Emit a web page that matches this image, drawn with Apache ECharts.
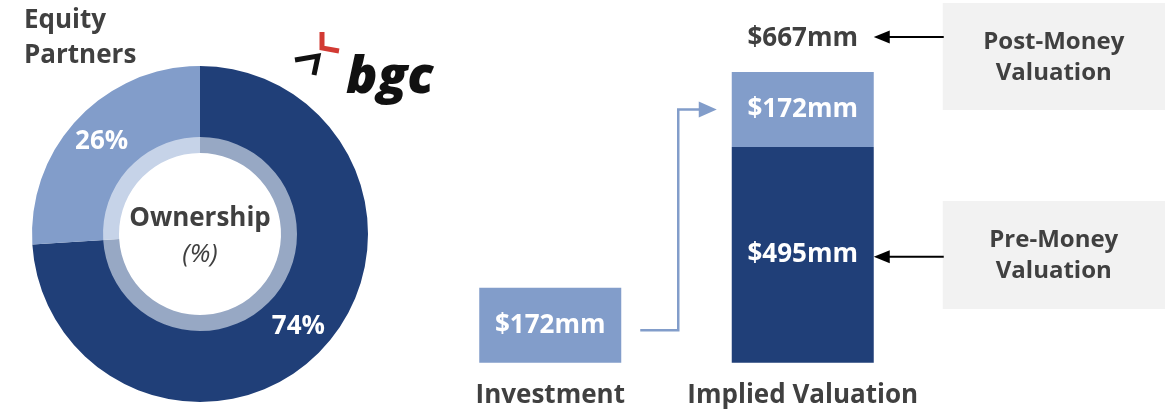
<!DOCTYPE html>
<html>
<head>
<meta charset="utf-8">
<script src="https://cdn.jsdelivr.net/npm/echarts@6/dist/echarts.min.js"></script>
<style>
  html, body { margin: 0; padding: 0; background: #fff; }
  #main { width: 1165px; height: 415px; }
</style>
</head>
<body>
<div id="main"></div>
<script>
// ownership split (pie)
var ownerNames = ["BGC", "Equity Partners"];
var ownerPct = [74, 26];

// valuation bars
var categories = ["Investment", "Implied Valuation"];
var preMoney = [null, 495];
var investment = [172, 172];
var postMoney = 667;

var DARK = "#203f78";
var LIGHT = "#829dca";
var TEXT = "#404040";
var FONT = "Open Sans";
var outerColors = [DARK, LIGHT];
var ringColors = ["#97a8c4", "#c6d3e8"];

var chart = echarts.init(document.getElementById("main"));

var money = function (v) { return "$" + v + "mm"; };

var option = {
  animation: false,
  textStyle: { fontFamily: FONT },
  grid: { left: 424, width: 505, top: 72, bottom: 52.3 },
  xAxis: {
    type: "category",
    data: categories,
    axisLine: { show: false },
    axisTick: { show: false },
    axisLabel: { interval: 0, color: TEXT, fontSize: 26, fontWeight: "bold", fontFamily: FONT, margin: 20 }
  },
  yAxis: { type: "value", min: 0, max: postMoney, show: false, splitLine: { show: false } },
  series: [
    {
      type: "pie",
      name: "Ownership",
      center: [200, 234],
      radius: [96, 168],
      startAngle: 90,
      clockwise: true,
      silent: true,
      label: {
        position: "inside",
        color: "#fff",
        fontSize: 26,
        fontWeight: "bold",
        fontFamily: FONT,
        formatter: "{c}%"
      },
      labelLine: { show: false },
      data: ownerNames.map(function (n, i) {
        return { name: n, value: ownerPct[i], itemStyle: { color: outerColors[i], borderWidth: 0 } };
      })
    },
    {
      type: "pie",
      name: "OwnershipRing",
      center: [200, 234],
      radius: [81, 97],
      startAngle: 90,
      clockwise: true,
      silent: true,
      label: { show: false },
      labelLine: { show: false },
      data: ownerNames.map(function (n, i) {
        return { name: n, value: ownerPct[i], itemStyle: { color: ringColors[i], borderWidth: 0 } };
      })
    },
    {
      type: "bar",
      name: "Pre-Money",
      stack: "v",
      barWidth: 142,
      itemStyle: { color: DARK },
      label: {
        show: true, position: "inside", color: "#fff", fontSize: 26, fontWeight: "bold", fontFamily: FONT,
        formatter: function (p) { return money(p.value); }
      },
      data: preMoney
    },
    {
      type: "bar",
      name: "Investment",
      stack: "v",
      barWidth: 142,
      itemStyle: { color: LIGHT },
      label: {
        show: true, position: "inside", color: "#fff", fontSize: 26, fontWeight: "bold", fontFamily: FONT,
        formatter: function (p) { return money(p.value); }
      },
      data: investment
    },
    {
      type: "bar",
      name: "Post-Money",
      stack: "v",
      barWidth: 142,
      itemStyle: { color: "transparent" },
      label: {
        show: true, position: "top", distance: 20, color: TEXT, fontSize: 26, fontWeight: "bold", fontFamily: FONT,
        formatter: function (p) { return p.dataIndex === 1 ? money(postMoney) : ""; }
      },
      data: [null, 0]
    }
  ]
};

chart.setOption(option);

// annotations placed from the axes
var xInv = chart.convertToPixel({ xAxisIndex: 0 }, categories[0]);
var xImp = chart.convertToPixel({ xAxisIndex: 0 }, categories[1]);
var yTop = chart.convertToPixel({ yAxisIndex: 0 }, postMoney);
var yPre = chart.convertToPixel({ yAxisIndex: 0 }, preMoney[1]);
var yZero = chart.convertToPixel({ yAxisIndex: 0 }, 0);
var yInvTop = chart.convertToPixel({ yAxisIndex: 0 }, investment[0]);
var half = 71;

var yLightMid = (yTop + yPre) / 2;
var yInvMid = (yInvTop + yZero) / 2 + 5;
var yPostLbl = yTop - 35;
var yPreLbl = (yPre + yZero) / 2 + 2;

var boxX = xImp + half + 69;
var arrowTip = xImp + half;

function blackArrow(y) {
  return [
    { type: "line", shape: { x1: arrowTip + 12, y1: y, x2: boxX + 1, y2: y }, style: { stroke: "#000", lineWidth: 2 } },
    { type: "polygon", shape: { points: [[arrowTip, y], [arrowTip + 16, y - 6.5], [arrowTip + 16, y + 6.5]] }, style: { fill: "#000" } }
  ];
}

var graphics = [
  // title
  { type: "text", left: 24, top: 3, style: { text: "Equity\nPartners", font: "bold 26px 'Open Sans'", fill: TEXT, lineHeight: 35 } },
  // centre of donut
  { type: "text", x: 200, y: 219, style: { text: "Ownership", font: "bold 26px 'Open Sans'", fill: TEXT, align: "center", verticalAlign: "middle" } },
  { type: "text", x: 200, y: 255, style: { text: "(%)", font: "italic 26px 'Open Sans'", fill: TEXT, align: "center", verticalAlign: "middle" } },
  // logo
  { type: "polyline", shape: { points: [[322, 32], [322, 48], [339, 51]] }, style: { stroke: "#d23a33", lineWidth: 5, lineJoin: "miter" } },
  { type: "polyline", shape: { points: [[295, 60], [318, 56], [314, 75]] }, style: { stroke: "#111", lineWidth: 5, lineJoin: "miter" } },
  { type: "text", x: 346, y: 78, style: { text: "bgc", font: "italic 800 52px 'Open Sans'", fill: "#111", verticalAlign: "middle" } },
  // investment -> valuation connector
  { type: "polyline", shape: { points: [[xInv + half + 19, yInvMid], [xImp - 124.5, yInvMid], [xImp - 124.5, yLightMid], [xImp - 103, yLightMid]] }, style: { stroke: LIGHT, lineWidth: 2.5, fill: null } },
  { type: "polygon", shape: { points: [[xImp - 86, yLightMid], [xImp - 104, yLightMid - 8], [xImp - 104, yLightMid + 8]] }, style: { fill: LIGHT } },
  // side boxes
  { type: "rect", shape: { x: boxX, y: 3, width: 1165 - boxX, height: 107 }, style: { fill: "#f2f2f2" } },
  { type: "text", x: boxX + 111, y: 58, style: { text: "Post-Money\nValuation", font: "bold 24px 'Open Sans'", fill: TEXT, align: "center", verticalAlign: "middle", lineHeight: 31 } },
  { type: "rect", shape: { x: boxX, y: 201, width: 1165 - boxX, height: 108 }, style: { fill: "#f2f2f2" } },
  { type: "text", x: boxX + 111, y: 256, style: { text: "Pre-Money\nValuation", font: "bold 24px 'Open Sans'", fill: TEXT, align: "center", verticalAlign: "middle", lineHeight: 31 } }
];
graphics = graphics.concat(blackArrow(yPostLbl), blackArrow(yPreLbl));

chart.setOption({ graphic: graphics });
</script>
</body>
</html>
